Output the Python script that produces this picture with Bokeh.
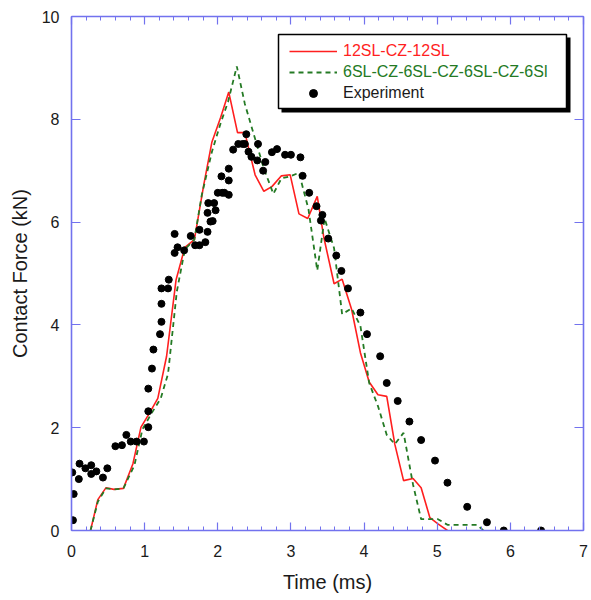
from bokeh.plotting import figure
from bokeh.models import (Range1d, LinearAxis, Legend, LegendItem, BoxAnnotation,
                          FixedTicker, SingleIntervalTicker, CustomLabelingPolicy)
from bokeh.embed import file_html
from bokeh.resources import INLINE

# ---------------- data ----------------
exp_time = [0.01, 0.02, 0.03, 0.10, 0.11, 0.19, 0.27, 0.27, 0.34, 0.43,
            0.49, 0.60, 0.69, 0.75, 0.81, 0.89, 0.99, 1.05, 1.05, 1.05,
            1.10, 1.12, 1.21, 1.23, 1.23, 1.23, 1.32, 1.33, 1.41, 1.41,
            1.45, 1.54, 1.63, 1.69, 1.75, 1.75, 1.83, 1.86, 1.86, 1.87,
            1.90, 1.93, 1.95, 1.97, 2.00, 2.05, 2.06, 2.09, 2.15, 2.15,
            2.15, 2.21, 2.28, 2.34, 2.37, 2.39, 2.42, 2.46, 2.54, 2.55,
            2.62, 2.65, 2.74, 2.81, 2.92, 3.00, 3.13, 3.16, 3.25, 3.35,
            3.41, 3.43, 3.51, 3.62, 3.69, 3.78, 3.95, 4.04, 4.22, 4.31,
            4.46, 4.62, 4.78, 4.97, 5.14, 5.41, 5.68, 5.91, 6.42]
exp_force = [1.13, 0.20, 0.71, 1.00, 1.30, 1.21, 1.27, 1.10, 1.15, 1.03,
             1.21, 1.64, 1.66, 1.86, 1.73, 1.73, 1.73, 2.01, 2.32, 2.76,
             3.15, 3.52, 3.82, 4.06, 4.41, 4.71, 4.71, 4.88, 5.40, 5.77,
             5.51, 5.45, 5.73, 5.55, 5.55, 5.85, 5.61, 5.81, 6.18, 6.37,
             6.01, 6.02, 6.37, 6.23, 6.57, 6.89, 6.57, 6.57, 7.04, 6.81,
             6.53, 7.41, 7.52, 7.52, 7.52, 7.71, 7.37, 7.27, 7.20, 7.52,
             7.00, 7.17, 7.36, 7.42, 7.31, 7.31, 7.26, 6.90, 6.57, 6.31,
             6.03, 6.14, 5.68, 5.35, 5.05, 4.71, 4.24, 3.82, 3.39, 2.87,
             2.52, 2.12, 1.76, 1.36, 0.93, 0.46, 0.16, 0.00, 0.00]

red_time = [0.26, 0.36, 0.47, 0.58, 0.71, 0.84, 0.95, 1.06, 1.18, 1.30,
            1.43, 1.55, 1.68, 1.81, 1.92, 2.04, 2.15, 2.27, 2.37, 2.51,
            2.63, 2.74, 2.87, 2.99, 3.11, 3.23, 3.36, 3.45, 3.59, 3.70,
            3.83, 3.95, 4.07, 4.19, 4.31, 4.42, 4.54, 4.67, 4.78, 4.90,
            5.01, 5.14]
red_force = [0.00, 0.60, 0.83, 0.80, 0.82, 1.30, 2.01, 2.27, 2.57, 3.39,
             4.88, 5.51, 5.66, 6.74, 7.56, 8.04, 8.53, 7.74, 7.74, 6.92,
             6.60, 6.69, 6.90, 6.92, 6.16, 6.07, 6.50, 5.70, 4.80, 4.89,
             4.30, 3.46, 2.89, 2.64, 2.61, 1.68, 0.97, 1.01, 0.83, 0.25,
             0.13, 0.00]

green_time = [0.26, 0.36, 0.47, 0.58, 0.71, 0.86, 0.97, 1.09, 1.22, 1.32,
              1.44, 1.55, 1.68, 1.78, 1.92, 2.04, 2.14, 2.26, 2.37, 2.50,
              2.63, 2.76, 2.87, 2.99, 3.11, 3.24, 3.36, 3.46, 3.59, 3.70,
              3.83, 3.95, 4.07, 4.19, 4.31, 4.42, 4.54, 4.67, 4.78, 4.90,
              5.01, 5.14, 5.27, 5.42, 5.55, 5.63]
green_force = [0.00, 0.56, 0.82, 0.80, 0.82, 1.27, 1.97, 2.27, 2.57, 3.05,
               4.65, 5.47, 5.66, 6.52, 7.37, 7.93, 8.34, 9.03, 8.30, 7.67,
               7.04, 6.55, 6.85, 6.89, 6.96, 6.25, 5.06, 6.07, 5.49, 4.21,
               4.32, 3.98, 2.87, 2.42, 1.86, 1.68, 1.90, 0.89, 0.22, 0.22,
               0.22, 0.11, 0.11, 0.11, 0.11, 0.00]

y_ticks = [0, 2, 4, 6, 8, 10]
series_labels = ["12SL-CZ-12SL", "6SL-CZ-6SL-CZ-6SL-CZ-6Sl", "Experiment"]

# ---------------- styles ----------------
FONT = "Liberation Sans"
AXIS_COLOR = "#7272ee"
RED = "#ff1f1f"
GREEN = "#247a24"
TEXT = "#1a1a1a"

p = figure(width=591, height=600, output_backend="svg", toolbar_location=None,
           x_range=Range1d(0, 7), y_range=Range1d(0, 10),
           min_border_left=71, min_border_right=8, min_border_top=16,
           min_border_bottom=70,
           x_axis_label="Time (ms)", y_axis_label="Contact Force (kN)")
p.grid.visible = False
p.outline_line_color = None
p.background_fill_color = "white"

no_labels = CustomLabelingPolicy(code="return []")


def style_axis(ax, labels=True, minor=True):
    ax.axis_line_color = AXIS_COLOR
    ax.axis_line_width = 1.6
    ax.major_tick_line_color = AXIS_COLOR
    ax.major_tick_line_width = 1.2
    ax.major_tick_out = 0
    ax.minor_tick_out = 0
    if minor:
        ax.minor_tick_line_color = AXIS_COLOR
        ax.minor_tick_line_width = 1.0
        ax.minor_tick_in = 4
    else:
        ax.minor_tick_line_color = None
    if labels:
        ax.major_label_text_font = FONT
        ax.major_label_text_font_size = "16px"
        ax.major_label_text_color = TEXT
        ax.axis_label_text_font = FONT
        ax.axis_label_text_font_size = "20px"
        ax.axis_label_text_font_style = "normal"
        ax.axis_label_text_color = TEXT
    else:
        ax.major_label_policy = no_labels
        ax.major_label_text_font_size = "1px"
        ax.major_label_standoff = 0


xt = SingleIntervalTicker(interval=1, num_minor_ticks=5)
yt = FixedTicker(ticks=y_ticks)

xb = p.xaxis[0]
xb.ticker = xt
style_axis(xb)
xb.major_tick_in = 8
xb.major_label_standoff = 14
xb.axis_label_standoff = 11

yl = p.yaxis[0]
yl.ticker = yt
style_axis(yl, minor=False)
yl.major_tick_in = 9
yl.major_label_standoff = 12
yl.axis_label_standoff = 8

xtop = LinearAxis(ticker=xt)
style_axis(xtop, labels=False)
xtop.major_tick_in = 8
p.add_layout(xtop, "above")

yr = LinearAxis(ticker=yt)
style_axis(yr, labels=False, minor=False)
yr.major_tick_in = 9
p.add_layout(yr, "right")

# ---------------- data marks ----------------
r_red = p.line(red_time, red_force, line_color=RED, line_width=1.6)
r_green = p.line(green_time, green_force, line_color=GREEN, line_width=1.8,
                 line_dash="5 4")
r_exp = p.scatter(exp_time, exp_force, size=7, fill_color="black",
                  line_color="black")

# ---------------- legend ----------------
shadow = BoxAnnotation(left=210, right=499, top=493, bottom=418,
                       left_units="screen", right_units="screen",
                       top_units="screen", bottom_units="screen",
                       fill_color="black", fill_alpha=1.0, line_color=None)
box = BoxAnnotation(left=207, right=495, top=496, bottom=422,
                    left_units="screen", right_units="screen",
                    top_units="screen", bottom_units="screen",
                    fill_color="white", fill_alpha=1.0, line_color="black",
                    line_width=1.5, line_alpha=1.0)
p.add_layout(shadow)
p.add_layout(box)

for rend, lab, col, vy in [(r_red, series_labels[0], RED, 469),
                           (r_green, series_labels[1], GREEN, 448),
                           (r_exp, series_labels[2], TEXT, 427)]:
    leg = Legend(items=[LegendItem(label=lab, renderers=[rend])],
                 location=(218, vy), padding=0, margin=0, spacing=0,
                 glyph_width=48, glyph_height=20, label_height=20,
                 label_standoff=6, label_text_font=FONT,
                 label_text_font_size="16px", label_text_color=col,
                 background_fill_alpha=0, border_line_color=None)
    p.add_layout(leg, "center")

open("out.html", "w").write(file_html(p, INLINE))
